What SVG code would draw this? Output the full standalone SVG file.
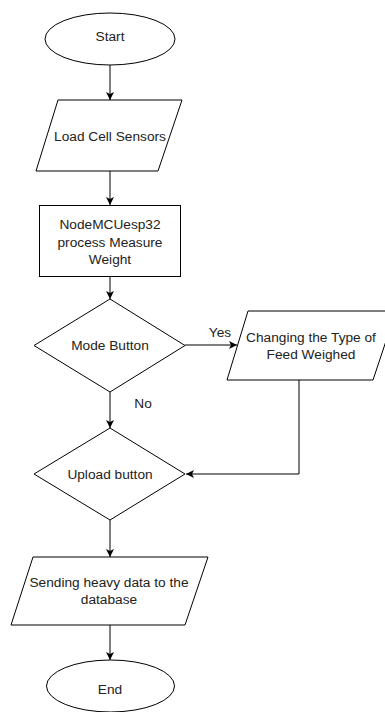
<svg xmlns="http://www.w3.org/2000/svg" width="385" height="712" viewBox="0 0 385 712">
<style>
.shape{fill:#fff;stroke:#000;stroke-width:1}
.conn{fill:none;stroke:#000;stroke-width:1}
.t{font-family:"Liberation Sans",Arial,sans-serif;font-size:13.7px;fill:#222;text-anchor:middle}
</style>
<defs>
<marker id="arr" markerUnits="userSpaceOnUse" markerWidth="8" markerHeight="8" viewBox="0 0 8 8" refX="8" refY="4" orient="auto">
<path d="M0,0 L8,4 L0,8 L2,4 z" fill="#000"/>
</marker>
</defs>
<rect width="385" height="712" fill="#fff"/>
<g id="connectors">
<path class="conn" d="M110,65 L110,100" marker-end="url(#arr)"/>
<path class="conn" d="M110,171 L110,205" marker-end="url(#arr)"/>
<path class="conn" d="M110,276 L110,299" marker-end="url(#arr)"/>
<path class="conn" d="M185,345 L237,345" marker-end="url(#arr)"/>
<path class="conn" d="M110,392 L110,428" marker-end="url(#arr)"/>
<path class="conn" d="M299,380 L299,474 L186,474" marker-end="url(#arr)"/>
<path class="conn" d="M110,520 L110,557" marker-end="url(#arr)"/>
<path class="conn" d="M110,625 L110,660" marker-end="url(#arr)"/>
<text class="t" x="220" y="337">Yes</text>
<text class="t" x="143" y="408">No</text>
</g>
<g id="start">
<ellipse class="shape" cx="110" cy="39" rx="65" ry="26"/>
<text class="t" x="110" y="41">Start</text>
</g>
<g id="load">
<polygon class="shape" points="58,100 182,100 158,171 36,171"/>
<text class="t" x="110" y="141">Load Cell Sensors</text>
</g>
<g id="process">
<rect class="shape" x="39.5" y="205.5" width="141" height="71"/>
<text class="t" x="110" y="229">NodeMCUesp32</text>
<text class="t" x="110" y="246.5">process Measure</text>
<text class="t" x="110" y="264">Weight</text>
</g>
<g id="mode">
<polygon class="shape" points="110,299 185,345.5 110,392 34,345.5"/>
<text class="t" x="110" y="350">Mode Button</text>
</g>
<g id="changing">
<polygon class="shape" points="248,311 396,311 373,380 227,380"/>
<text class="t" x="311" y="342">Changing the Type of</text>
<text class="t" x="311" y="359">Feed Weighed</text>
</g>
<g id="upload">
<polygon class="shape" points="110,428 185,474 110,520 34,474"/>
<text class="t" x="110" y="479">Upload button</text>
</g>
<g id="sending">
<polygon class="shape" points="33,557 208,557 185,625 11,625"/>
<text class="t" x="109" y="587">Sending heavy data to the</text>
<text class="t" x="109" y="604">database</text>
</g>
<g id="end">
<ellipse class="shape" cx="110.5" cy="686" rx="64" ry="26"/>
<text class="t" x="110" y="694">End</text>
</g>
</svg>
